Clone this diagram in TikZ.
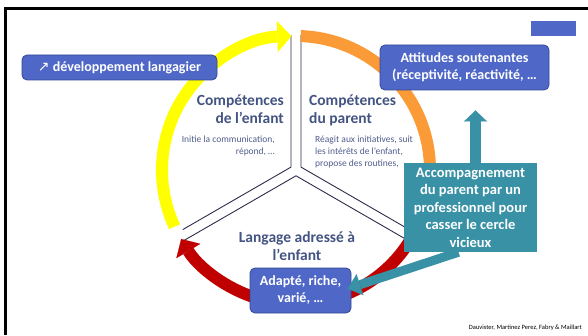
\documentclass[tikz,border=0pt]{standalone}
\usepackage{fontspec}
\setmainfont{Carlito}
\newfontfamily\symfont{DejaVu Sans}
\usetikzlibrary{positioning,arrows.meta}
\definecolor{boxblue}{RGB}{79,103,199}
\definecolor{boxline}{RGB}{52,72,150}
\definecolor{tealbox}{RGB}{57,145,166}
\definecolor{headtxt}{RGB}{68,84,130}
\definecolor{smalltxt}{RGB}{80,92,140}
\definecolor{ringyellow}{RGB}{255,255,0}
\definecolor{ringorange}{RGB}{250,155,55}
\definecolor{ringred}{RGB}{192,0,0}
\definecolor{sectorline}{RGB}{45,45,75}

\tikzset{
  bluebox/.style={fill=boxblue, draw=boxline, line width=0.8pt, rounded corners=5pt,
    text=white, font=\bfseries\fontsize{14}{17}\selectfont, align=center, inner sep=0pt},
  tealnote/.style={fill=tealbox, text=white, font=\bfseries\fontsize{14.5}{17.5}\selectfont,
    align=center, inner sep=0pt},
  heading/.style={text=headtxt, font=\bfseries\fontsize{15.5}{18}\selectfont, inner sep=0pt},
  smalltext/.style={text=smalltxt, font=\fontsize{9.5}{11.8}\selectfont, inner sep=0pt},
  ring/.style={line width=12pt},
  sector/.style={draw=sectorline, line width=0.9pt},
  tealarrow/.style={draw=tealbox, line width=10pt, -{Triangle[length=11pt,width=23pt,line width=0.1pt]}},
}

\begin{document}
\begin{tikzpicture}[x=1pt, y=1pt]

      \useasboundingbox (0,0) rectangle (588,335);
      \draw [line width=3.5pt] (4,326.3) -- (588,326.3);
      \draw [line width=2.5pt] (5.3,0) -- (5.3,328);

      % the three sectors
      \draw [sector] (291,299.9) -- (291,167.9) -- ++(210:125);
      \draw [sector] (301,299.9) -- (301,167.9) -- ++(330:125);
      \draw [sector] (296,159.2) ++(210:130) -- (296,159.2) -- ++(330:130);

      % the ring
      \draw [ring, ringyellow, -{Triangle[length=14pt,width=31pt,line width=0.1pt]}] (296,165) ++(205:134) arc [start angle=205, end angle=92, radius=134];
      \draw [ring, ringorange] (296,165) ++(88:134) arc [start angle=88, end angle=-12, radius=134];
      \draw [ring, ringred, -{Triangle[length=14pt,width=28pt,line width=0.1pt]}] (296,165) ++(-20:134) arc [start angle=-20, end angle=-149, radius=134];

      \node [heading, align=right, anchor=north east] at (284, 240) (compenfant) {Compétences\\de l’enfant};
      \node [smalltext, align=right, anchor=north east] at (275, 199) (initie) {Initie la communication,\\répond, …};
      \node [heading, align=left, anchor=north west] at (309, 240) (compparent) {Compétences\\du parent};
      \node [smalltext, align=left, anchor=north west] at (315, 199) (reagit) {Réagit aux initiatives, suit\\les intérêts de l’enfant,\\propose des routines,};
      \node [heading, align=center, anchor=north] at (297, 104) (langage) {Langage adressé à\\l’enfant};

      \node [bluebox, minimum width=195pt, minimum height=25pt] at (119.5, 267.5) (devlang) {{\symfont\mdseries ↗} développement langagier};
      \node [bluebox, minimum width=169pt, minimum height=45pt] at (464.5, 267.5) (attitudes) {Attitudes soutenantes\\(réceptivité, réactivité, …};
      \node [fill=boxblue, minimum width=45pt, minimum height=15pt, inner sep=0pt] at (553.5, 306.5) (tag) {};
      \node [bluebox, minimum width=101pt, minimum height=45pt] at (300.5, 44.5) (adapte) {Adapté, riche,\\varié, …};
      \node [tealnote, minimum width=133pt, minimum height=89pt] at (470.5, 127.5) (accomp) {Accompagnement\\du parent par un\\professionnel pour\\casser le cercle\\vicieux};

      \draw [tealarrow, line width=11pt, shorten >=20pt] ([xshift=5pt]accomp.north) -- ([xshift=11pt]attitudes.south);
      \draw [tealarrow, line width=9pt, -{Triangle[length=13pt,width=22pt,line width=0.1pt]}, shorten >=-4pt] ([xshift=-12pt]accomp.south) -- ([yshift=3pt]adapte.east);

      \node [font=\fontsize{6.5}{8}\selectfont, anchor=base east, inner sep=0pt] at (582, 6) (credit) {Dauvister, Martinez Perez, Fabry \& Maillart};
    \end{tikzpicture}
\end{document}
